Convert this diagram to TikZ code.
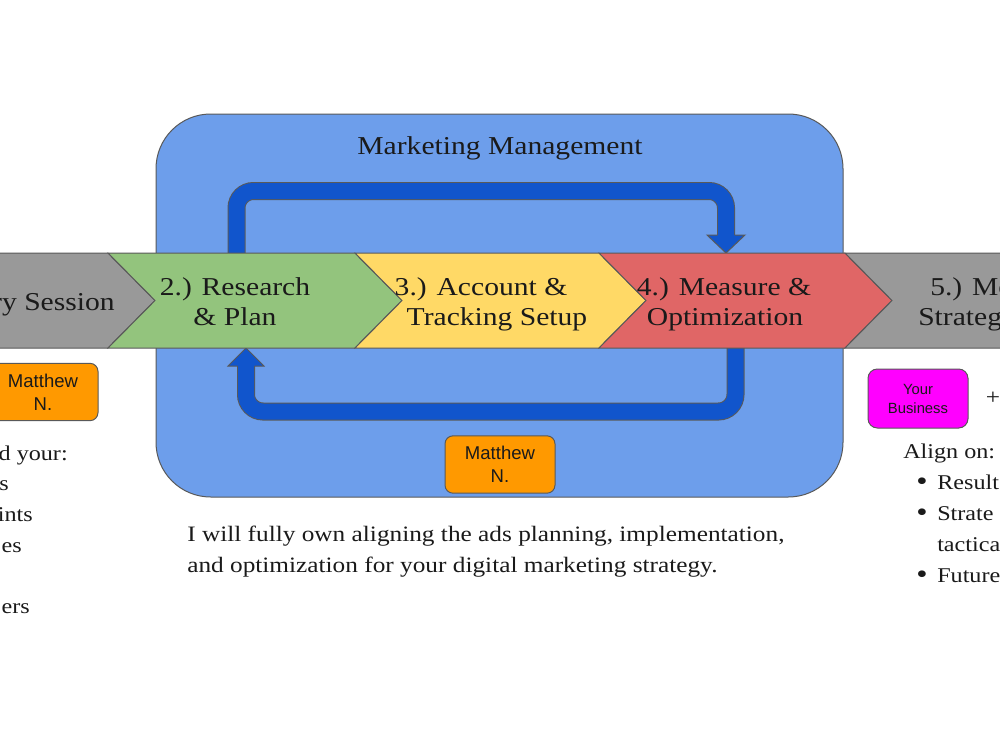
\documentclass[tikz,border=0pt]{standalone}
\usepackage{fontspec}
\setmainfont[FakeStretch=1.15]{Liberation Serif}
\newfontfamily\boxfont{Liberation Sans}
\definecolor{mgmtblue}{HTML}{6D9EEB}
\definecolor{arrowblue}{HTML}{1155CC}
\definecolor{linegray}{HTML}{595959}
\definecolor{cgreen}{HTML}{93C47D}
\definecolor{cyellow}{HTML}{FFD966}
\definecolor{cred}{HTML}{E06666}
\definecolor{cgray}{HTML}{999999}
\definecolor{corange}{HTML}{FF9900}
\definecolor{cmagenta}{HTML}{FF00FF}
\definecolor{txt}{HTML}{1A1A1A}
\tikzset{
  mgmt/.style={draw=linegray, line width=0.75pt, fill=mgmtblue, rounded corners=41pt},
  chev/.style={draw=linegray, line width=0.75pt, line join=miter},
  arrowout/.style={draw=linegray, line width=13.5pt, rounded corners=12.75pt},
  arrowin/.style={draw=arrowblue, line width=12pt, rounded corners=12.75pt},
  headfill/.style={fill=arrowblue},
  headline/.style={draw=linegray, line width=0.75pt, line join=miter},
  ctext/.style={font=\fontsize{19.3}{22.5}\selectfont, text=txt, inner sep=0pt, anchor=base},
  btext/.style={font=\fontsize{16.5}{23.25}\selectfont, text=txt, inner sep=0pt, anchor=base west},
  ltext/.style={font=\fontsize{15.75}{23.25}\selectfont, text=txt, inner sep=0pt},
  bul/.style={font=\fontsize{21}{23.25}\selectfont, text=txt, inner sep=0pt, anchor=base},
  personbox/.style={draw=linegray, line width=0.75pt, fill=corange, rounded corners=6pt,
    minimum width=82.5pt, minimum height=43pt, align=center, inner sep=0pt,
    font=\boxfont\fontsize{13.9}{17.25}\selectfont, text=txt},
  bizbox/.style={draw=linegray, line width=0.75pt, fill=cmagenta, rounded corners=7pt,
    minimum width=75pt, minimum height=44.25pt, align=center, inner sep=0pt,
    font=\boxfont\fontsize{11.1}{14.25}\selectfont, text=txt},
}
\begin{document}
\begin{tikzpicture}[x=0.75pt,y=-0.75pt]
\useasboundingbox (0,0) rectangle (1000,750);
\fill[white] (0,0) rectangle (1000,750);

% management container
\draw[mgmt] (156,114) rectangle (843,497);
\node[ctext] (title) at (500,154) {Marketing Management};

% top loop arrow (green -> red)
\coordinate (tA) at (236.5,253);
\coordinate (tTop) at (726,191);
\coordinate (tB) at (726,236);
\draw[arrowout] (tA) |- (tTop) -- (tB);
\draw[arrowin] (tA) |- (tTop) -- (tB);
\fill[headfill] (707,235) -- (726,253) -- (745,235) -- cycle;
\draw[headline] (717.5,235) -- (707,235) -- (726,253) -- (745,235) -- (734.5,235);

% bottom loop arrow (red -> green)
\coordinate (bA) at (735.5,348);
\coordinate (bBot) at (246,411.5);
\coordinate (bB) at (246,365);
\draw[arrowout] (bA) |- (bBot) -- (bB);
\draw[arrowin] (bA) |- (bBot) -- (bB);
\fill[headfill] (228,366) -- (246,348) -- (264,366) -- cycle;
\draw[headline] (237.5,366) -- (228,366) -- (246,348) -- (264,366) -- (254.5,366);

% chevron band
\draw[chev, fill=cgray] (-20,253) -- (108,253) -- (155,300.5) -- (108,348) -- (-20,348) -- cycle;
\draw[chev, fill=cgreen] (108,253) -- (355,253) -- (402,300.5) -- (355,348) -- (108,348) -- (155,300.5) -- cycle;
\draw[chev, fill=cyellow] (355,253) -- (599,253) -- (646,300.5) -- (599,348) -- (355,348) -- (402,300.5) -- cycle;
\draw[chev, fill=cred] (599,253) -- (845,253) -- (892,300.5) -- (845,348) -- (599,348) -- (646,300.5) -- cycle;
\draw[chev, fill=cgray] (845,253) -- (1020,253) -- (1020,348) -- (845,348) -- (892,300.5) -- cycle;

\node[ctext, anchor=base east] (s1) at (115,310) {ry Session};
\node[ctext] (r1) at (235,295) {2.) Research};
\node[ctext] (r2) at (235,325) {\& Plan};
\node[ctext] (a1) at (481,295) {3.) Account \&};
\node[ctext] (a2) at (497,325) {Tracking Setup};
\node[ctext] (m1) at (724,295) {4.) Measure \&};
\node[ctext] (m2) at (725,325) {Optimization};
\node[ctext, anchor=base west] (f1) at (930,295) {5.) Mo};
\node[ctext, anchor=base west] (f2) at (918,325) {Strateg};

% people boxes
\node[personbox] (mleft) at (43,392) {Matthew\\N.};
\node[personbox] (mcenter) at (500,464.5) {Matthew\\N.};
\node[bizbox] (biz) at (918,398.5) {Your\\Business};
\node[ltext, font=\fontsize{16.5}{20}\selectfont] (plus) at (993,398) {+};

% left column (cut off)
\node[ltext, anchor=base east] (l1) at (68,460) {d your:};
\node[ltext, anchor=base east] (l2) at (9,490) {s};
\node[ltext, anchor=base east] (l3) at (33,521) {ints};
\node[ltext, anchor=base east] (l4) at (22,552) {es};
\node[ltext, anchor=base east] (l5) at (30,613) {ers};

% body text
\node[btext] (body1) at (187,541) {I will fully own aligning the ads planning, implementation,};
\node[btext] (body2) at (187,572) {and optimization for your digital marketing strategy.};

% right column (cut off)
\node[ltext, anchor=base west] (al) at (903,458) {Align on:};
\node[bul] (b1) at (922,490) {\textbullet};
\node[ltext, anchor=base west] (t1) at (937,489) {Result};
\node[bul] (b2) at (922,521) {\textbullet};
\node[ltext, anchor=base west] (t2) at (937,520) {Strate};
\node[ltext, anchor=base west] (t3) at (937,551) {tactica};
\node[bul] (b4) at (922,583) {\textbullet};
\node[ltext, anchor=base west] (t4) at (937,582) {Future};
\end{tikzpicture}
\end{document}
